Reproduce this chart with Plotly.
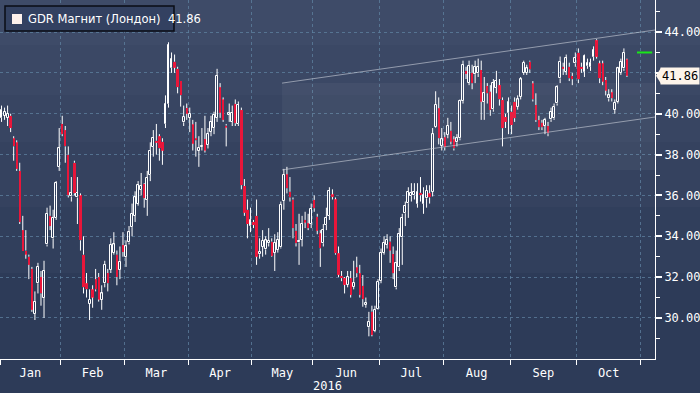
import plotly.graph_objects as go

# ---------------- data ----------------
month_names = ["Jan", "Feb", "Mar", "Apr", "May", "Jun", "Jul", "Aug", "Sep", "Oct"]
month_trading_days = [20, 21, 21, 21, 20, 22, 21, 22, 22, 21]
year_label = "2016"

opens = [39.8, 39.9, 39.8, 39.9, 38.8, 38.6, 37.2, 34.3, 33.3, 33.0, 32.4, 30.2, 31.7, 32.0, 31.0, 33.6, 35.0, 33.9, 34.9, 37.4,
         39.5, 39.2, 38.0, 35.95, 37.6, 35.9, 36.0, 33.1, 31.7, 30.7, 31.4, 31.9, 32.0, 30.9, 31.7, 32.2, 32.35, 33.2, 33.1, 32.35,
         33.57, 33.0, 33.7, 34.45, 35.0, 35.6, 36.27, 36.56, 35.78, 37.0, 38.37, 38.68, 38.9, 38.63, 39.5, 40.48, 42.24, 42.55, 42.2, 41.6,
         39.58, 40.28, 39.8, 39.48, 38.8, 38.2, 38.37, 38.76, 38.47, 39.12, 39.3, 39.8, 41.3, 40.7, 39.42, 39.95, 39.6, 40.48, 39.5, 40.18,
         36.46, 35.3, 34.5, 34.7, 35.0, 33.12, 33.49, 33.36, 33.66, 33.74, 33.2, 33.33, 33.46, 35.74, 37.03, 36.18, 35.8, 34.27, 33.7, 33.82,
         34.8, 34.64, 34.6, 35.78, 34.96, 34.15, 33.66, 34.55, 35.0, 36.05, 35.81, 33.17, 32.06, 31.95, 31.62, 31.95, 31.54, 32.48, 32.19, 31.57,
         30.64, 29.55, 30.31, 29.38, 30.43, 31.83, 33.2, 33.57, 33.74, 33.13, 31.5, 32.48, 33.95, 35.13, 35.62, 35.97, 36.0, 35.58, 36.13, 35.6,
         35.86, 36.1, 36.18, 39.34, 40.27, 38.42, 38.85, 38.96, 39.17, 38.75, 38.6, 38.8, 40.62, 42.1, 41.52, 42.0, 41.94, 41.98, 42.14, 40.59,
         41.36, 41.08, 40.22, 41.28, 41.4, 40.67, 39.84, 40.05, 40.1, 40.59, 40.35, 40.83, 42.0, 42.0, 42.55, 41.49, 40.43, 39.69, 39.56, 39.4,
         39.4, 39.73, 39.78, 40.51, 41.73, 42.3, 42.06, 42.3, 41.85, 42.47, 42.99, 42.3, 42.06, 42.34, 42.3, 42.79, 43.6, 42.47, 42.47, 41.65,
         40.75, 41.05, 40.18, 40.59, 42.0, 42.22, 42.66]
highs = [40.4, 40.3, 40.4, 40.0, 38.9, 38.7, 37.6, 35.0, 34.3, 33.1, 32.5, 31.3, 32.7, 32.3, 32.8, 35.4, 35.5, 35.3, 36.7, 39.3,
         39.9, 39.4, 38.4, 36.9, 37.7, 36.9, 36.1, 34.0, 32.2, 31.4, 31.6, 32.4, 32.2, 31.6, 32.8, 32.4, 33.9, 34.2, 33.3, 33.5,
         34.2, 33.8, 34.5, 35.6, 36.2, 36.7, 37.1, 36.6, 37.2, 38.6, 39.2, 39.5, 39.0, 38.8, 40.9, 43.5, 43.0, 42.9, 42.3, 41.6,
         40.4, 40.5, 40.3, 39.7, 39.6, 38.9, 39.3, 39.9, 39.3, 39.9, 40.1, 42.2, 41.5, 40.8, 39.5, 40.5, 40.4, 40.7, 40.6, 40.3,
         36.8, 35.8, 35.4, 34.8, 35.8, 33.9, 34.3, 34.0, 34.4, 33.9, 34.1, 34.2, 35.7, 37.3, 37.4, 36.9, 35.9, 34.6, 35.1, 35.0,
         35.2, 35.1, 35.6, 36.0, 35.1, 34.3, 34.6, 35.4, 36.4, 36.3, 35.9, 33.5, 32.3, 32.0, 32.3, 32.3, 32.8, 33.0, 32.6, 32.1,
         31.0, 30.3, 30.6, 30.6, 31.9, 33.4, 34.0, 34.1, 34.0, 33.5, 33.3, 34.4, 35.1, 35.7, 36.4, 36.6, 36.6, 36.6, 36.9, 36.4,
         36.5, 36.5, 39.3, 41.1, 40.8, 39.3, 39.1, 39.8, 39.6, 38.9, 39.0, 40.7, 42.6, 42.3, 42.6, 42.4, 42.6, 42.7, 42.6, 41.8,
         41.5, 41.4, 41.7, 42.1, 41.7, 40.8, 40.0, 40.8, 40.4, 40.8, 40.9, 41.8, 42.6, 42.4, 42.6, 41.6, 41.0, 39.9, 39.7, 39.8,
         39.6, 40.3, 40.5, 41.4, 42.8, 42.5, 42.9, 42.5, 42.0, 43.0, 43.2, 42.5, 42.9, 42.7, 42.7, 43.3, 43.65, 42.6, 42.6, 41.8,
         41.2, 41.2, 40.7, 42.3, 42.7, 43.2, 42.7]
lows = [39.6, 39.7, 39.4, 39.1, 37.7, 37.2, 34.6, 33.3, 32.9, 31.9, 30.3, 29.9, 31.2, 30.6, 30.0, 33.5, 34.3, 33.4, 34.8, 37.2,
        38.9, 37.6, 35.9, 35.7, 36.0, 34.6, 33.3, 31.2, 31.0, 29.9, 30.5, 31.3, 30.8, 30.4, 31.5, 31.3, 32.2, 33.1, 31.6, 31.9,
        33.0, 32.5, 33.6, 34.0, 34.7, 35.5, 36.0, 35.4, 35.0, 36.7, 37.9, 38.0, 37.7, 37.5, 39.3, 40.3, 42.0, 42.0, 41.0, 40.35,
        39.4, 39.7, 39.1, 38.2, 37.9, 37.4, 38.2, 38.1, 38.3, 38.9, 39.0, 39.6, 39.8, 39.6, 38.4, 39.6, 39.4, 39.4, 39.4, 36.3,
        35.0, 33.9, 34.2, 34.4, 32.6, 32.9, 33.0, 33.1, 33.5, 33.0, 32.3, 33.2, 33.4, 35.3, 36.1, 35.7, 33.9, 33.5, 32.6, 33.5,
        34.4, 34.3, 34.4, 35.2, 34.1, 32.5, 33.5, 34.3, 34.8, 35.8, 33.1, 32.0, 31.8, 31.2, 31.5, 31.0, 31.4, 32.0, 31.0, 30.55,
        30.5, 29.1, 29.1, 29.3, 30.4, 31.7, 33.1, 33.4, 32.7, 31.9, 31.4, 32.3, 32.6, 34.5, 34.9, 35.7, 35.8, 35.4, 35.7, 35.1,
        35.4, 35.6, 35.95, 39.3, 38.5, 38.2, 38.2, 38.8, 38.5, 38.2, 38.4, 38.7, 40.5, 41.7, 41.4, 41.2, 41.5, 41.8, 39.7, 39.7,
        40.5, 39.9, 40.1, 41.0, 40.4, 38.4, 39.3, 39.0, 39.0, 39.6, 40.2, 40.7, 41.9, 41.9, 42.0, 40.6, 39.6, 39.2, 39.2, 39.0,
        38.9, 39.6, 39.7, 40.4, 41.5, 41.9, 41.9, 41.6, 41.4, 42.3, 41.5, 42.0, 41.8, 42.2, 42.1, 42.6, 42.7, 41.5, 41.4, 40.9,
        40.6, 40.6, 40.0, 40.5, 41.9, 42.1, 41.8]
closes = [40.2, 40.1, 40.0, 39.3, 38.4, 37.3, 34.7, 33.3, 33.1, 32.6, 30.4, 30.8, 32.5, 31.2, 32.3, 35.1, 34.5, 34.9, 36.6, 38.3,
          39.0, 38.4, 36.0, 36.1, 36.1, 36.1, 33.8, 31.5, 31.4, 30.9, 31.0, 31.4, 30.9, 31.2, 32.6, 31.7, 33.57, 33.6, 32.0, 32.75,
          33.23, 33.5, 34.2, 35.1, 35.9, 36.5, 36.45, 35.87, 36.85, 38.18, 38.8, 38.58, 38.3, 38.19, 40.48, 43.36, 42.68, 42.25, 41.3, 40.9,
          39.85, 40.0, 40.0, 38.53, 38.7, 38.34, 38.43, 38.2, 39.0, 39.6, 39.94, 41.86, 40.05, 39.7, 39.32, 40.05, 40.05, 39.53, 40.43, 36.5,
          35.15, 34.6, 34.8, 34.55, 33.0, 33.25, 33.77, 33.8, 33.79, 33.04, 33.67, 33.82, 35.53, 37.0, 36.35, 35.9, 34.4, 33.66, 33.76, 34.6,
          34.67, 34.4, 35.33, 35.37, 34.27, 33.41, 34.3, 34.88, 36.2, 35.93, 33.17, 32.11, 31.95, 31.62, 32.0, 31.13, 31.73, 32.19, 31.13, 30.92,
          30.72, 29.82, 29.17, 30.39, 31.78, 33.2, 33.69, 33.82, 33.3, 32.19, 32.67, 34.12, 34.88, 35.48, 36.18, 36.13, 36.18, 36.18, 36.0, 36.0,
          36.23, 35.9, 39.0, 40.43, 38.8, 38.75, 38.35, 39.4, 38.63, 38.3, 38.8, 40.62, 42.38, 41.95, 42.34, 41.49, 42.3, 42.28, 40.59, 41.0,
          41.0, 40.18, 41.49, 41.62, 40.7, 39.29, 39.6, 40.59, 39.45, 39.78, 40.7, 41.68, 42.5, 42.22, 42.17, 40.7, 39.69, 39.34, 39.34, 39.69,
          39.04, 40.1, 40.35, 41.29, 42.55, 42.2, 42.71, 41.73, 41.69, 42.71, 41.68, 42.2, 42.82, 42.47, 42.5, 43.12, 42.79, 41.73, 41.57, 41.13,
          40.9, 40.76, 40.54, 42.22, 42.55, 42.99, 41.86]

y_tick_values = [30, 32, 34, 36, 38, 40, 42, 44]
# the 42.00 label is hidden behind the last-price callout in the original
y_tick_labels = ["30.00", "32.00", "34.00", "36.00", "38.00", "40.00", "", "44.00"]
y_minor_values = [29, 31, 33, 35, 37, 39, 41, 43, 45]

# trend channel (start day index / end day index, price levels)
channel_days = [92.4, 215.24]
channel_upper = [41.5, 44.1]
channel_lower = [37.25, 39.84]

# green marker level on the right
marker_days = [209.3, 214.3]
marker_level = [43.0, 43.0]

last_price = 41.86
series_name = "GDR Магнит (Лондон)"

# ---------------- derived ----------------
days = list(range(len(closes)))
boundaries = [-0.5]
for n in month_trading_days:
    boundaries.append(boundaries[-1] + n)
mids = [(boundaries[k] + boundaries[k + 1]) / 2 for k in range(len(month_names))]

wx, wy = [], []
up_x, up_base, up_len = [], [], []
dn_x, dn_base, dn_len = [], [], []
for i in days:
    top = max(opens[i], closes[i])
    bot = min(opens[i], closes[i])
    wx += [i, i, None, i, i, None]
    wy += [top, highs[i], None, lows[i], bot, None]
    if closes[i] >= opens[i]:
        up_x.append(i); up_base.append(opens[i]); up_len.append(max(closes[i] - opens[i], 0.04))
    else:
        dn_x.append(i); dn_base.append(closes[i]); dn_len.append(opens[i] - closes[i])

GRID = "rgba(95,130,160,0.75)"
MONO = "DejaVu Sans Mono"
RED = "#e8163a"

fig = go.Figure()

fig.add_trace(go.Scatter(
    x=[channel_days[0], channel_days[1], channel_days[1], channel_days[0], channel_days[0]],
    y=[channel_lower[0], channel_lower[0], channel_upper[0], channel_upper[0], channel_lower[0]],
    fill="toself", fillcolor="rgba(255,255,255,0.045)", line=dict(width=0),
    mode="lines", hoverinfo="skip", showlegend=False))

fig.add_trace(go.Scatter(x=wx, y=wy, mode="lines",
                         line=dict(color="#ffffff", width=1), hoverinfo="skip", showlegend=False))

fig.add_trace(go.Bar(x=up_x, y=up_len, base=up_base, width=0.62,
                     marker=dict(color="rgba(0,0,0,0)", line=dict(color="#ffffff", width=1)),
                     hoverinfo="skip", showlegend=False))
fig.add_trace(go.Bar(x=dn_x, y=dn_len, base=dn_base, width=0.75,
                     marker=dict(color=RED, line=dict(width=0)),
                     hoverinfo="skip", showlegend=False))

for lvl in (channel_upper, channel_lower):
    fig.add_trace(go.Scatter(x=channel_days, y=lvl, mode="lines",
                             line=dict(color="rgba(205,210,220,0.6)", width=1),
                             hoverinfo="skip", showlegend=False))

fig.add_trace(go.Scatter(x=marker_days, y=marker_level, mode="lines",
                         line=dict(color="#19e619", width=2), hoverinfo="skip", showlegend=False))

band_edges_px = [0, 45, 95, 142, 207, 273, 393]
band_colors = ["#3e4b68", "#3b4865", "#384562", "#35425f", "#313f5c", "#2d3b58"]
PLOT_H = 359
PLOT_W = 655
shapes = []
for k, col in enumerate(band_colors):
    shapes.append(dict(type="rect", xref="paper", yref="paper", layer="below",
                       x0=-0.01, x1=1.08,
                       y0=1 - band_edges_px[k + 1] / PLOT_H, y1=1 - band_edges_px[k] / PLOT_H,
                       fillcolor=col, line=dict(width=0)))

shapes.append(dict(type="rect", xref="paper", yref="paper", layer="above",
                   x0=5 / PLOT_W, x1=174 / PLOT_W, y0=1 - 31 / PLOT_H, y1=1 - 6 / PLOT_H,
                   fillcolor="#334161", line=dict(color="#0a0d14", width=1.5)))
shapes.append(dict(type="rect", xref="paper", yref="paper", layer="above",
                   x0=12 / PLOT_W, x1=22 / PLOT_W, y0=1 - 24 / PLOT_H, y1=1 - 14 / PLOT_H,
                   fillcolor="#fdf1ec", line=dict(width=0)))
shapes.append(dict(type="path", xref="paper", yref="y", xsizemode="pixel", ysizemode="pixel",
                   xanchor=1, yanchor=last_price, path="M 1,0 L 6,8 L 6,-8 Z",
                   fillcolor="#fdf4ea", line=dict(color="#fdf4ea", width=0), layer="above"))

annotations = [
    dict(xref="paper", yref="paper", x=26 / PLOT_W, y=1 - 19 / PLOT_H, xanchor="left", yanchor="middle",
         text=f"{series_name}  {last_price:.2f}", showarrow=False,
         font=dict(family="DejaVu Sans Condensed, DejaVu Sans", size=12.8, color="#ffffff")),
    dict(xref="paper", yref="y", x=1 + 5 / PLOT_W, y=last_price, xanchor="left", yanchor="middle",
         text=f"{last_price:.2f}", showarrow=False, bgcolor="#fdf4ea", borderpad=1,
         font=dict(family=MONO, size=12, color="#000000")),
    dict(xref="paper", yref="paper", x=0.5, y=-27 / PLOT_H, xanchor="center", yanchor="middle",
         text=year_label, showarrow=False, font=dict(family=MONO, size=12, color="#ffffff")),
]

fig.update_layout(
    width=700, height=393,
    margin=dict(l=0, r=45, t=0, b=34, autoexpand=False),
    paper_bgcolor="#2c3a57", plot_bgcolor="rgba(0,0,0,0)",
    showlegend=False, shapes=shapes, annotations=annotations,
    barmode="overlay", bargap=0,
    xaxis=dict(
        range=[-0.5, 215.24], automargin=False,
        tickmode="array", tickvals=mids, ticktext=month_names, ticks="",
        ticklabelstandoff=3,
        showgrid=False, zeroline=False, showline=True, linecolor="#ffffff", linewidth=1,
        tickfont=dict(family=MONO, size=12, color="#ffffff"),
        minor=dict(tickmode="array", tickvals=boundaries, ticks="outside", ticklen=5,
                   tickcolor="#ffffff", tickwidth=1, showgrid=True, gridcolor=GRID,
                   griddash="3px,3px", gridwidth=1),
    ),
    yaxis=dict(
        side="right", range=[27.99, 45.57], automargin=False,
        tickmode="array", tickvals=y_tick_values, ticktext=y_tick_labels,
        ticks="outside", ticklen=6, tickwidth=2, tickcolor="#ffffff",
        showgrid=True, gridcolor=GRID, griddash="3px,3px", gridwidth=1,
        zeroline=False, showline=True, linecolor="#ffffff", linewidth=1,
        tickfont=dict(family=MONO, size=12, color="#ffffff"),
        minor=dict(tickmode="array", tickvals=y_minor_values, ticks="outside", ticklen=4,
                   tickcolor="#ffffff", tickwidth=1, showgrid=False),
    ),
)

fig.write_html("out.html", config={"displayModeBar": False},
               post_script="document.body.style.margin='0';document.body.style.background='#2c3a57';")
